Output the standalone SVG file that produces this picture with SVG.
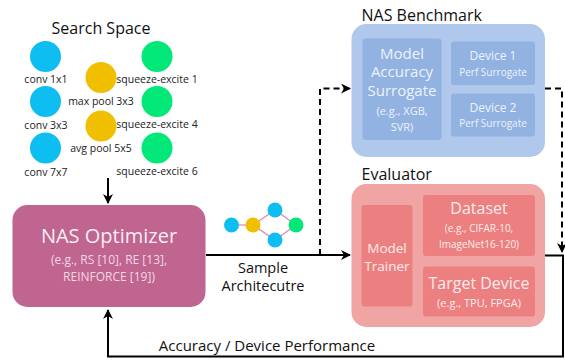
<svg xmlns="http://www.w3.org/2000/svg" width="565" height="360" viewBox="0 0 565 360">
<defs>
<marker id="ah" viewBox="0 0 10 10" refX="9" refY="5" markerWidth="10" markerHeight="10" markerUnits="userSpaceOnUse" orient="auto">
<path d="M0,0 L10,5 L0,10 L3,5 Z" fill="#000"/>
</marker>
<style>
text{font-family:"Open Sans","DejaVu Sans",sans-serif;text-anchor:middle}
.lbl{font-size:10.5px;fill:#222}
.t{font-size:16px;fill:#111;text-anchor:start}
.blue{fill:#0EBEF0}
.green{fill:#02E878}
.yellow{fill:#F0C000}
.ln{fill:none;stroke:#000;stroke-width:2}
.dash{fill:none;stroke:#000;stroke-width:2;stroke-dasharray:6,4}
.w{fill:#EEF3FB}
.wp{fill:#FDECEC}
.edge{stroke:#D987AB;stroke-width:1.2}
</style>
</defs>
<rect width="565" height="360" fill="#fff"/>

<g id="search-space">
<text x="101" y="34" style="font-size:16px;fill:#111">Search Space</text>
<circle class="blue" cx="45.5" cy="56.5" r="15.5"/>
<circle class="blue" cx="45.5" cy="101.5" r="15.5"/>
<circle class="blue" cx="45.5" cy="148" r="15.5"/>
<circle class="yellow" cx="101" cy="77.5" r="15.5"/>
<circle class="yellow" cx="101" cy="126" r="15.5"/>
<circle class="green" cx="157" cy="56.5" r="15.5"/>
<circle class="green" cx="157" cy="101.5" r="15.5"/>
<circle class="green" cx="157" cy="148" r="15.5"/>
<text class="lbl" x="46" y="83">conv 1x1</text>
<text class="lbl" x="46" y="128.5">conv 3x3</text>
<text class="lbl" x="46" y="176">conv 7x7</text>
<text class="lbl" x="101" y="105">max pool 3x3</text>
<text class="lbl" x="101" y="152">avg pool 5x5</text>
<text class="lbl" x="157" y="82.5">squeeze-excite 1</text>
<text class="lbl" x="157" y="128">squeeze-excite 4</text>
<text class="lbl" x="157" y="174.5">squeeze-excite 6</text>
</g>

<g id="nas-optimizer">
<rect x="12.5" y="205" width="193" height="102" rx="15" fill="#C06490"/>
<text x="109" y="243" style="font-size:20px;fill:#F8EEF3">NAS Optimizer</text>
<text x="109" y="264" style="font-size:12px;fill:#F2D8E5">(e.g., RS [10], RE [13],</text>
<text x="109" y="280.5" style="font-size:12px;fill:#F2D8E5">REINFORCE [19])</text>
</g>

<g id="sample-graph">
<line class="edge" x1="231.5" y1="225" x2="253" y2="225"/>
<line class="edge" x1="253" y1="225" x2="275" y2="210"/>
<line class="edge" x1="253" y1="225" x2="275" y2="240"/>
<line class="edge" x1="275" y1="210" x2="296" y2="225"/>
<line class="edge" x1="275" y1="240" x2="296" y2="225"/>
<circle class="blue" cx="231.5" cy="225" r="7.5"/>
<circle class="yellow" cx="253" cy="225" r="7.5"/>
<circle class="blue" cx="275" cy="210" r="7.5"/>
<circle class="blue" cx="275" cy="240" r="7.5"/>
<circle class="green" cx="296" cy="225" r="7.5"/>
</g>

<g id="nas-benchmark">
<text class="t" x="361.5" y="20.5">NAS Benchmark</text>
<rect x="351.5" y="24" width="193.5" height="133" rx="15" fill="#B0C8EC"/>
<rect x="362.5" y="38.5" width="79" height="101.5" rx="3" fill="#92B2E2"/>
<rect x="451" y="41.5" width="84" height="43.5" rx="3" fill="#92B2E2"/>
<rect x="451" y="93.5" width="84" height="43" rx="3" fill="#92B2E2"/>
<text class="w" x="402" y="58.5" style="font-size:15px">Model</text>
<text class="w" x="402" y="77" style="font-size:15px">Accuracy</text>
<text class="w" x="402" y="95.5" style="font-size:15px">Surrogate</text>
<text class="w" x="402" y="115" style="font-size:11px">(e.g., XGB,</text>
<text class="w" x="402" y="131" style="font-size:11px">SVR)</text>
<text class="w" x="493" y="60" style="font-size:12px">Device 1</text>
<text class="w" x="493" y="76" style="font-size:10px">Perf Surrogate</text>
<text class="w" x="493" y="111.5" style="font-size:12px">Device 2</text>
<text class="w" x="493" y="127" style="font-size:10px">Perf Surrogate</text>
</g>

<g id="evaluator">
<text class="t" x="361.5" y="180">Evaluator</text>
<rect x="351.5" y="184" width="193.5" height="143" rx="15" fill="#F0A4A4"/>
<rect x="361.5" y="205" width="51" height="101.5" rx="3" fill="#EC8080"/>
<rect x="423" y="195" width="112" height="61" rx="3" fill="#EC8080"/>
<rect x="423" y="266.5" width="112" height="50" rx="3" fill="#EC8080"/>
<text class="wp" x="387" y="253" style="font-size:13.5px">Model</text>
<text class="wp" x="387" y="270.5" style="font-size:13.5px">Trainer</text>
<text class="wp" x="479" y="213.5" style="font-size:16px">Dataset</text>
<text class="wp" x="479" y="231.5" style="font-size:10px">(e.g., CIFAR-10,</text>
<text class="wp" x="479" y="247.5" style="font-size:10px">ImageNet16-120)</text>
<text class="wp" x="479" y="288.5" style="font-size:16px">Target Device</text>
<text class="wp" x="479" y="306.5" style="font-size:11px">(e.g., TPU, FPGA)</text>
</g>

<g id="connectors">
<line class="ln" x1="108" y1="178" x2="108" y2="203" marker-end="url(#ah)"/>
<line class="ln" x1="206" y1="255" x2="350" y2="255" marker-end="url(#ah)"/>
<polyline class="dash" points="320,255 320,88.5 350,88.5" marker-end="url(#ah)"/>
<polyline class="dash" points="545,88.5 562,88.5 562,252" marker-end="url(#ah)"/>
<polyline class="ln" points="545,255.5 563,255.5 563,356.5 108,356.5 108,310" marker-end="url(#ah)"/>
<text x="263" y="272.5" style="font-size:14.5px;fill:#111">Sample</text>
<text x="263" y="290.5" style="font-size:14.5px;fill:#111">Architecutre</text>
<text x="267" y="351" style="font-size:15px;fill:#111">Accuracy / Device Performance</text>
</g>
</svg>
